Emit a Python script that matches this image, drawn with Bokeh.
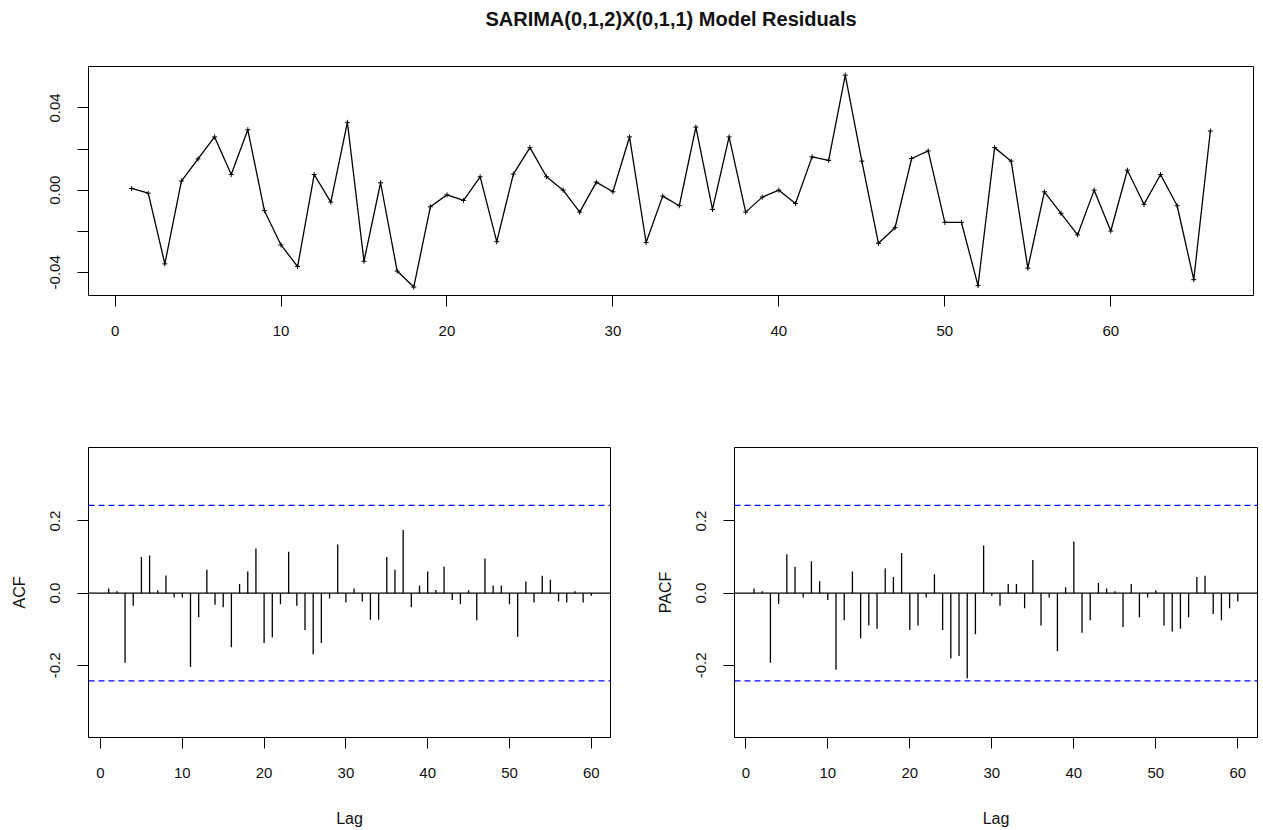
from bokeh.plotting import figure
from bokeh.layouts import column, row
from bokeh.models import Span, FixedTicker, Range1d, Title
from bokeh.embed import file_html
from bokeh.resources import INLINE

# ---------------- data ----------------
t_index = list(range(1, 67))
residuals = [0.0008, -0.0015, -0.0359, 0.0044, 0.0152, 0.0259, 0.0076, 0.0294, -0.0100, -0.0267,
             -0.0372, 0.0076, -0.0058, 0.0330, -0.0346, 0.0036, -0.0394, -0.0472, -0.0081, -0.0023,
             -0.0050, 0.0065, -0.0251, 0.0078, 0.0207, 0.0065, 0.0000, -0.0107, 0.0039, -0.0008,
             0.0259, -0.0255, -0.0029, -0.0076, 0.0307, -0.0094, 0.0259, -0.0107, -0.0034, 0.0000,
             -0.0065, 0.0162, 0.0145, 0.0560, 0.0141, -0.0259, -0.0183, 0.0154, 0.0191, -0.0157,
             -0.0157, -0.0465, 0.0207, 0.0141, -0.0380, -0.0008, -0.0113, -0.0218, 0.0000, -0.0199,
             0.0097, -0.0069, 0.0076, -0.0076, -0.0436, 0.0288]

lags = list(range(1, 61))
acf_vals = [0.013, 0.005, -0.193, -0.035, 0.100, 0.104, 0.008, 0.049, -0.012, -0.012,
            -0.205, -0.067, 0.065, -0.032, -0.039, -0.150, 0.025, 0.060, 0.124, -0.138,
            -0.122, -0.031, 0.115, -0.035, -0.102, -0.169, -0.138, -0.015, 0.135, -0.026,
            0.013, -0.023, -0.074, -0.074, 0.100, 0.065, 0.175, -0.039, 0.021, 0.060,
            0.009, 0.073, -0.019, -0.031, 0.008, -0.075, 0.096, 0.021, 0.021, -0.031,
            -0.121, 0.032, -0.026, 0.048, 0.037, -0.023, -0.026, 0.005, -0.026, -0.007]
pacf_vals = [0.013, 0.005, -0.193, -0.030, 0.108, 0.073, -0.012, 0.088, 0.033, -0.019,
             -0.212, -0.075, 0.060, -0.126, -0.090, -0.099, 0.068, 0.045, 0.111, -0.102,
             -0.090, -0.012, 0.052, -0.102, -0.181, -0.174, -0.236, -0.114, 0.132, -0.007,
             -0.035, 0.025, 0.025, -0.042, 0.092, -0.090, -0.012, -0.161, 0.016, 0.143,
             -0.110, -0.075, 0.028, 0.013, 0.005, -0.094, 0.025, -0.067, -0.012, 0.008,
             -0.090, -0.106, -0.099, -0.067, 0.045, 0.048, -0.058, -0.075, -0.042, -0.023]
conf_bound = 0.243

title_text = "SARIMA(0,1,2)X(0,1,1) Model Residuals"
top_yticks = [-0.04, -0.02, 0.0, 0.02, 0.04]
top_ylabels = {-0.04: "-0.04", -0.02: "", 0: "0.00", 0.02: "", 0.04: "0.04"}
xticks = [0, 10, 20, 30, 40, 50, 60]
cf_yticks = [-0.2, 0.0, 0.2]
cf_ylabels = {-0.2: "-0.2", 0: "0.0", 0.2: "0.2"}

FONT = "Liberation Sans"


def style(p, yticks, ylabels):
    p.background_fill_color = "white"
    p.border_fill_color = "white"
    p.outline_line_color = "black"
    p.outline_line_width = 1
    p.xgrid.grid_line_color = None
    p.ygrid.grid_line_color = None
    for ax in (p.xaxis[0], p.yaxis[0]):
        ax.axis_line_color = None
        ax.major_tick_out = 11
        ax.major_tick_in = 0
        ax.minor_tick_line_color = None
        ax.major_tick_line_color = "black"
        ax.major_tick_line_width = 1
        ax.major_label_text_font = FONT
        ax.major_label_text_font_size = "15px"
        ax.major_label_text_color = "#111111"
        ax.axis_label_text_font = FONT
        ax.axis_label_text_font_size = "16px"
        ax.axis_label_text_font_style = "normal"
        ax.axis_label_text_color = "#111111"
    p.xaxis[0].ticker = FixedTicker(ticks=xticks)
    p.yaxis[0].ticker = FixedTicker(ticks=yticks)
    p.yaxis[0].major_label_overrides = ylabels
    p.yaxis[0].major_label_orientation = "vertical"
    p.xaxis[0].major_label_standoff = 19
    p.yaxis[0].major_label_standoff = 17


# ---------------- top: residual series ----------------
top = figure(width=1255, height=408, output_backend="svg", toolbar_location=None,
             x_range=Range1d(-1.6, 68.6), y_range=Range1d(-0.0513, 0.0602),
             min_border_left=88, min_border_right=2, min_border_top=66, min_border_bottom=113)
style(top, top_yticks, top_ylabels)
# invisible spacer between the frame and the title
top.add_layout(Title(text=" ", text_font_size="27px", standoff=0, text_color="white"), "above")
top.add_layout(Title(text=title_text, align="center", text_font=FONT, text_font_size="20px",
                     text_font_style="bold", text_color="#111111"), "above")
top.line(t_index, residuals, line_color="black", line_width=1.3)
top.scatter(t_index, residuals, marker="cross", size=5, line_color="black", line_width=1)


# ---------------- ACF / PACF ----------------
def cf_panel(vals, label, width, border_right, xr):
    p = figure(width=width, height=421, output_backend="svg", toolbar_location=None,
               x_range=Range1d(*xr), y_range=Range1d(-0.400, 0.4035),
               min_border_left=88, min_border_right=border_right,
               min_border_top=39, min_border_bottom=89,
               x_axis_label="Lag", y_axis_label=label)
    style(p, cf_yticks, cf_ylabels)
    p.xaxis[0].axis_label_standoff = 29
    p.yaxis[0].axis_label_standoff = 20
    p.segment(x0=lags, y0=[0] * len(lags), x1=lags, y1=vals, line_color="black", line_width=1.3)
    p.add_layout(Span(location=0, dimension="width", line_color="black", line_width=1.2))
    for b in (conf_bound, -conf_bound):
        p.add_layout(Span(location=b, dimension="width", line_color="#0000FF",
                          line_width=1.3, line_dash="6 4"))
    return p


acf_p = cf_panel(acf_vals, "ACF", 646, 36, (-1.47, 62.35))
pacf_p = cf_panel(pacf_vals, "PACF", 616, 5, (-1.38, 62.4))

layout = column(top, row(acf_p, pacf_p, spacing=0), spacing=0)

html = file_html(layout, INLINE, title="SARIMA residuals")
with open("out.html", "w") as f:
    f.write(html)
